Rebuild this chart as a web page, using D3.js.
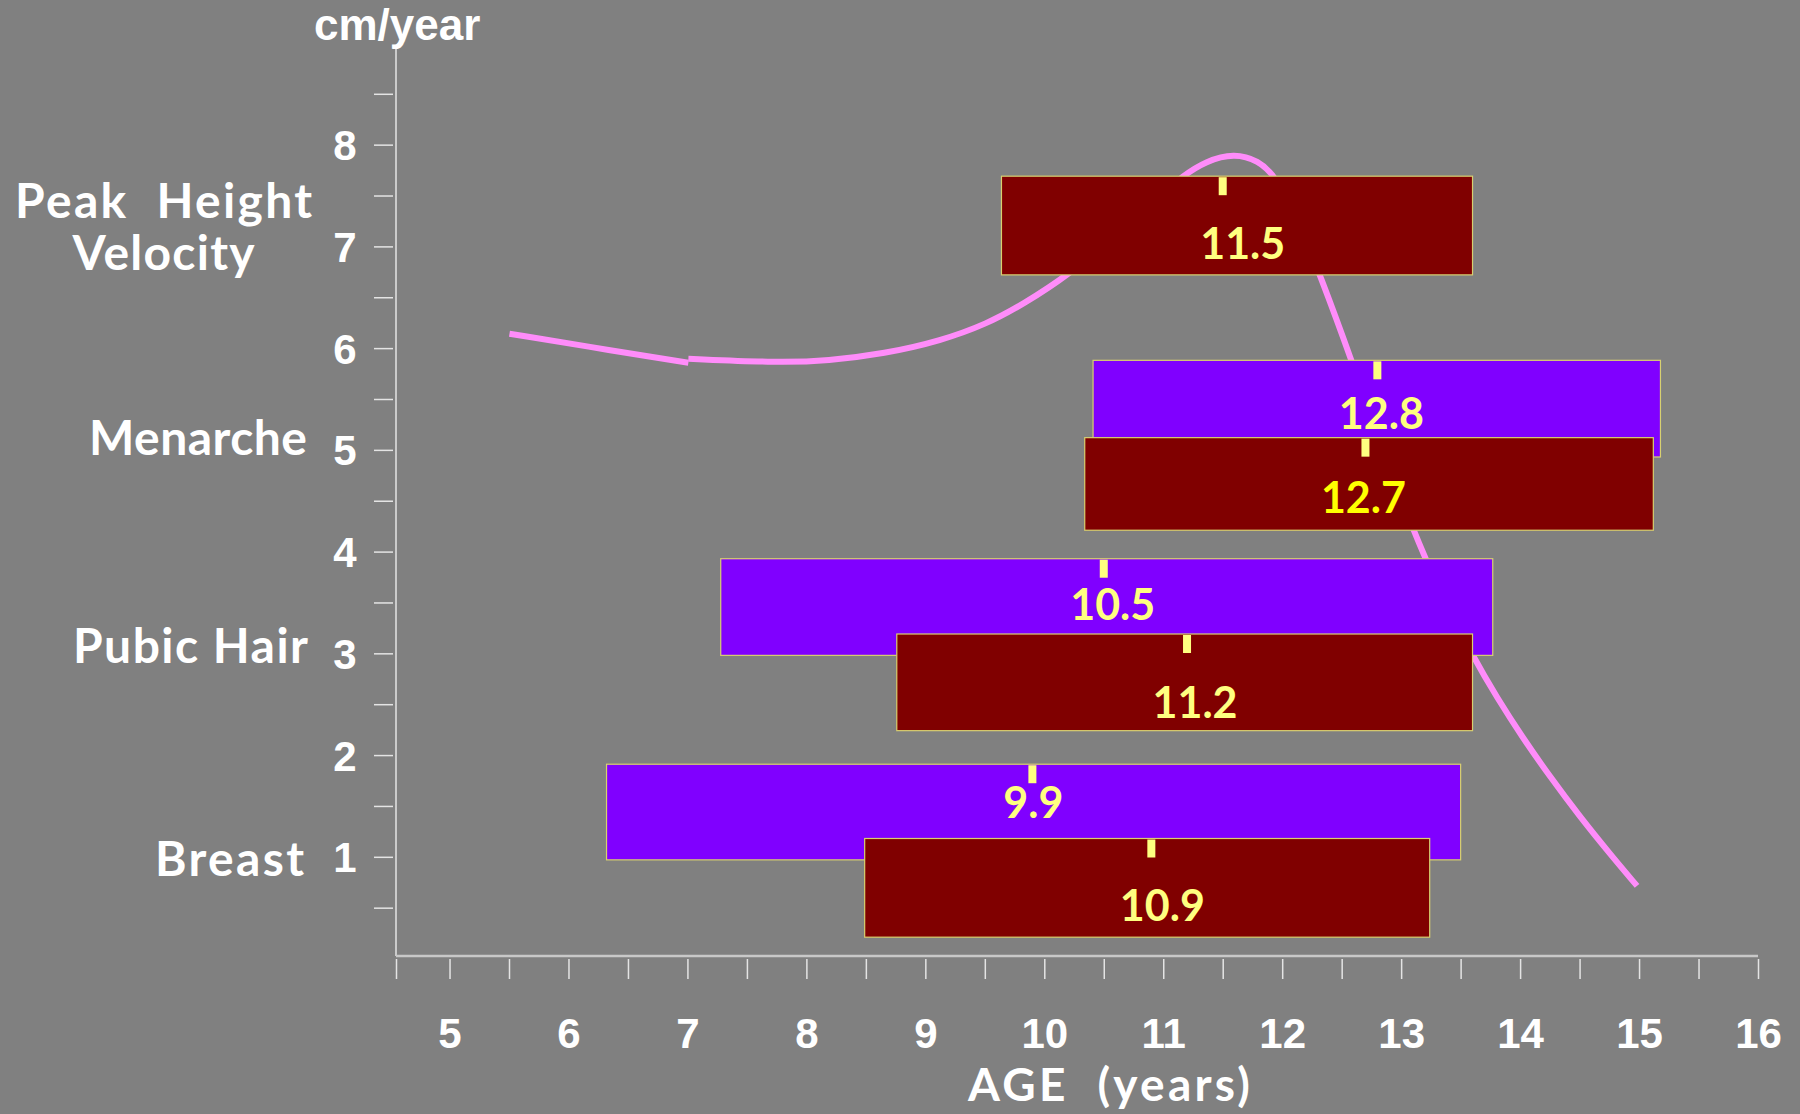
<!DOCTYPE html>
<html>
<head>
<meta charset="utf-8">
<script src="https://cdn.jsdelivr.net/npm/d3@7"></script>
<style>
  html, body { margin: 0; padding: 0; background: #808080; }
  svg { display: block; }
</style>
</head>
<body>
<svg id="chart" width="1800" height="1114"></svg>
<script>
// ---- Data -------------------------------------------------------------
// Pubertal milestones: mean age (marker + label) and the age range (bar),
// drawn over the height-velocity curve. Bars sit in cm/year units vertically.
const barMilestone = ["Breast", "Breast", "Pubic Hair", "Pubic Hair", "Menarche", "Menarche", "Peak Height Velocity"];
const barCohort    = ["A", "B", "A", "B", "A", "B", "B"];
const barMean      = [9.9, 10.9, 10.5, 11.2, 12.8, 12.7, 11.5];
const barStart     = [6.32, 8.49, 7.28, 8.76, 10.41, 10.34, 9.64];
const barEnd       = [13.50, 13.24, 13.77, 13.60, 15.18, 15.12, 13.60];
const barLow       = [0.97, 0.21, 2.98, 2.24, 4.93, 4.21, 6.72];
const barHigh      = [1.91, 1.18, 3.93, 3.19, 5.88, 5.12, 7.69];

// Height velocity (cm/year) against age (years), drawn as two pieces
const velAgeA = [5.504, 6.378, 7.008];
const velCmA  = [6.142, 5.974, 5.856];
const velAgeB = [7.008, 7.782, 8.176, 8.655, 9.134, 9.521, 9.815, 10.210, 10.630, 10.975,
                 11.160, 11.361, 11.597, 11.798, 11.950, 12.134, 12.319, 12.588, 12.832, 13.092,
                 13.328, 13.605, 13.807, 14.017, 14.252, 14.504, 14.756, 14.983];
const velCmB  = [5.896, 5.856, 5.876, 5.945, 6.073, 6.240, 6.427, 6.722, 7.145, 7.499,
                 7.690, 7.840, 7.915, 7.845, 7.685, 7.243, 6.722, 5.866, 5.040, 4.234,
                 3.595, 2.966, 2.562, 2.179, 1.786, 1.392, 1.028, 0.714];

// Axis ticks
const ageTicks = d3.range(5, 16.01, 0.5);
const cmTicks  = d3.range(0.5, 8.51, 0.5);

// Row labels on the left
const rowLabels = ["Peak  Height", "Velocity", "Menarche", "Pubic Hair", "Breast"];

// ---- Layout / style ---------------------------------------------------
const frame = { left: 396, right: 1758, top: 48, bottom: 956 };
const cohortFill = { A: "#8000FF", B: "#800000" };
const labelDx = [1, 11, 9, 8, 4, -2, 20];                // label centre beside the marker
const labelDy = [54, 83, 61, 84, 69, 75, 83];           // label baseline below bar top
const labelFill = ["#FFFF80", "#FFFF80", "#FFFF80", "#FFFF80", "#FFFF80", "#FFFF00", "#FFFF80"];
const rowLabelLayout = [
  { x: 163.6, y: 218, anchor: "middle", w: 297 },
  { x: 163.6, y: 270, anchor: "middle", w: 182 },
  { x: 307,   y: 455, anchor: "end",    w: 218 },
  { x: 308,   y: 663, anchor: "end",    w: 235 },
  { x: 304,   y: 876, anchor: "end",    w: 149 }
];
const numFont = "'Liberation Sans', Arial, sans-serif";
const textFont = "Lato, 'Open Sans', sans-serif";

// ---- Scales -----------------------------------------------------------
const x = d3.scaleLinear().domain([4.55, 16]).range([frame.left, frame.right]);
const y = d3.scaleLinear().domain([0.025, 8.95]).range([frame.bottom, frame.top]);

const svg = d3.select("#chart");
svg.append("rect").attr("width", 1800).attr("height", 1114).attr("fill", "#808080");

// ---- Axes -------------------------------------------------------------
const yAxis = d3.axisLeft(y)
  .tickValues(cmTicks)
  .tickSize(19)
  .tickFormat(d => Number.isInteger(d) ? d : "");
const gy = svg.append("g").attr("transform", `translate(${frame.left - 3},0)`).call(yAxis);
gy.select(".domain").remove();
gy.selectAll(".tick line").attr("stroke", "#e4e4e4").attr("stroke-width", 1.5);
gy.selectAll(".tick text")
  .attr("x", -48).attr("dy", "0.36em")
  .attr("text-anchor", "middle")
  .attr("fill", "#ffffff")
  .style("font-family", numFont).style("font-weight", "bold").style("font-size", "42px");

const xAxis = d3.axisBottom(x)
  .tickValues([x.domain()[0], ...ageTicks])
  .tickSize(20)
  .tickFormat(d => Number.isInteger(d) ? d : "");
const gx = svg.append("g").attr("transform", `translate(0,${frame.bottom + 3})`).call(xAxis);
gx.select(".domain").remove();
gx.selectAll(".tick line").attr("stroke", "#e4e4e4").attr("stroke-width", 1.5);
gx.selectAll(".tick text")
  .attr("y", 89).attr("dy", 0)
  .attr("fill", "#ffffff")
  .style("font-family", numFont).style("font-weight", "bold").style("font-size", "42px");

svg.append("line")
  .attr("x1", frame.left).attr("x2", frame.left)
  .attr("y1", frame.top).attr("y2", frame.bottom)
  .attr("stroke", "#e4e4e4").attr("stroke-width", 1.5);
svg.append("line")
  .attr("x1", frame.left).attr("x2", frame.right)
  .attr("y1", frame.bottom).attr("y2", frame.bottom)
  .attr("stroke", "#c8c8c8").attr("stroke-width", 2.5);

// Axis titles
svg.append("text")
  .attr("x", 314).attr("y", 40)
  .attr("fill", "#ffffff")
  .style("font-family", numFont).style("font-weight", "bold").style("font-size", "44px")
  .text("cm/year");

svg.append("text")
  .attr("x", 1109).attr("y", 1101)
  .attr("text-anchor", "middle")
  .attr("fill", "#ffffff")
  .attr("textLength", 282).attr("lengthAdjust", "spacing")
  .style("white-space", "pre")
  .style("font-family", textFont).style("font-weight", "bold").style("font-size", "46px")
  .text("AGE  (years)");

// Row labels
svg.append("g").selectAll("text")
  .data(rowLabels)
  .join("text")
  .attr("x", (d, i) => rowLabelLayout[i].x)
  .attr("y", (d, i) => rowLabelLayout[i].y)
  .attr("text-anchor", (d, i) => rowLabelLayout[i].anchor)
  .attr("textLength", (d, i) => rowLabelLayout[i].w)
  .attr("lengthAdjust", "spacing")
  .attr("fill", "#ffffff")
  .style("white-space", "pre")
  .style("font-family", textFont).style("font-weight", "bold").style("font-size", "48px")
  .text(d => d);

// ---- Height velocity curve (behind the bars) --------------------------
const line = d3.line()
  .x(d => x(d[0]))
  .y(d => y(d[1]))
  .curve(d3.curveBasis);

[[velAgeA, velCmA], [velAgeB, velCmB]].forEach(([ages, cms]) => {
  svg.append("path")
    .datum(ages.map((a, i) => [a, cms[i]]))
    .attr("d", line)
    .attr("fill", "none")
    .attr("stroke", "#FF8CFA")
    .attr("stroke-width", 6)
    .attr("stroke-linecap", "butt");
});

// ---- Milestone bars ---------------------------------------------------
const bars = barMean.map((m, i) => ({
  milestone: barMilestone[i], cohort: barCohort[i], mean: m,
  start: barStart[i], end: barEnd[i], low: barLow[i], high: barHigh[i], idx: i
}));

const gBar = svg.append("g").selectAll("g").data(bars).join("g");

gBar.append("rect")
  .attr("x", d => x(d.start))
  .attr("y", d => y(d.high))
  .attr("width", d => x(d.end) - x(d.start))
  .attr("height", d => y(d.low) - y(d.high))
  .attr("fill", d => cohortFill[d.cohort])
  .attr("stroke", "#d8d070")
  .attr("stroke-width", 1.2);

gBar.append("rect")
  .attr("x", d => x(d.mean) - 4)
  .attr("y", d => y(d.high) + 1)
  .attr("width", 8)
  .attr("height", 18)
  .attr("fill", "#FFFF80");

gBar.append("text")
  .attr("x", d => x(d.mean) + labelDx[d.idx])
  .attr("y", d => y(d.high) + labelDy[d.idx])
  .attr("text-anchor", "middle")
  .attr("fill", d => labelFill[d.idx])
  .style("font-family", textFont).style("font-weight", "bold").style("font-size", "43px")
  .text(d => d.mean.toFixed(1));
</script>
</body>
</html>
